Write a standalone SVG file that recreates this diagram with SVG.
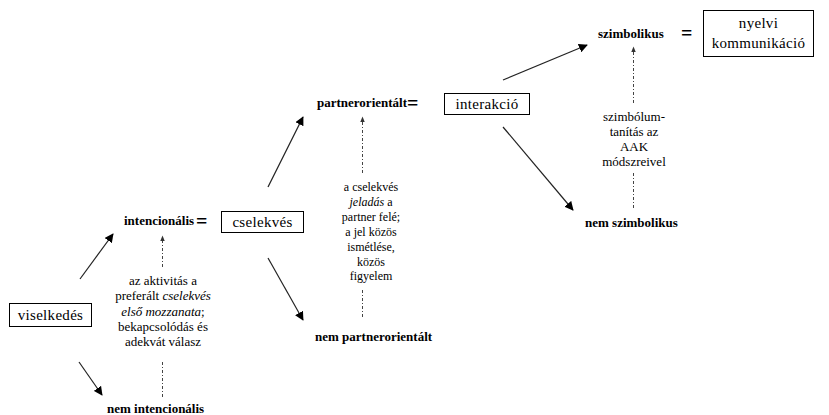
<svg xmlns="http://www.w3.org/2000/svg" width="829" height="415" viewBox="0 0 829 415">
<defs>
<marker id="ah" viewBox="0 0 10 10" refX="9" refY="5" markerWidth="9" markerHeight="9" markerUnits="userSpaceOnUse" orient="auto"><path d="M0,0 L10,5 L0,10 Z" fill="#000"/></marker>
<marker id="dh" viewBox="0 0 10 10" refX="9" refY="5" markerWidth="6" markerHeight="6" markerUnits="userSpaceOnUse" orient="auto"><path d="M0,1 L10,5 L0,9 Z" fill="#333"/></marker>
</defs>
<style>
.box{fill:#fff;stroke:#000;stroke-width:1}
.bt{font-size:15px;letter-spacing:0.3px}
.b{font-size:13px;font-weight:bold}
.eq{font-size:20px;font-weight:bold}
.n{font-size:13px;text-anchor:middle}
.n2{font-size:12px;text-anchor:middle}
.arr{stroke:#222;stroke-width:1.2;fill:none;marker-end:url(#ah)}
.dash{stroke:#444;stroke-width:1;fill:none;stroke-dasharray:3,2,1,2}
</style>
<rect width="829" height="415" fill="#fff"/>
<g font-family="Liberation Serif, Times New Roman, DejaVu Serif, serif" fill="#000">
<g id="viselkedes"><rect class="box" x="9.5" y="303.5" width="82" height="23"/><text class="bt" x="50.5" y="320" text-anchor="middle">viselkedés</text></g>
<g id="intencionalis"><text class="b" x="124" y="225">intencionális</text><text class="eq" x="196" y="228">=</text></g>
<g id="cselekves"><rect class="box" x="221.5" y="211.5" width="82" height="21"/><text class="bt" x="262.5" y="227" text-anchor="middle">cselekvés</text></g>
<g id="nem-intencionalis"><text class="b" x="107" y="413">nem intencionális</text></g>
<g id="partnerorientalt"><text class="b" x="317" y="107">partnerorientált</text><text class="eq" x="407" y="110">=</text></g>
<g id="interakcio"><rect class="box" x="444.5" y="93.5" width="85" height="21"/><text class="bt" x="487" y="109" text-anchor="middle">interakció</text></g>
<g id="nem-partnerorientalt"><text class="b" x="315" y="341">nem partnerorientált</text></g>
<g id="szimbolikus"><text class="b" x="598" y="38">szimbolikus</text><text class="eq" x="681" y="40">=</text></g>
<g id="nyelvi-kommunikacio"><rect class="box" x="703.5" y="10.5" width="110" height="46"/><text class="bt" x="758.5" y="28" text-anchor="middle">nyelvi</text><text class="bt" x="758.5" y="48" text-anchor="middle">kommunikáció</text></g>
<g id="nem-szimbolikus"><text class="b" x="585" y="227">nem szimbolikus</text></g>

<g id="note1">
<text class="n" x="163" y="285">az aktivitás a</text>
<text class="n" x="163" y="300">preferált <tspan font-style="italic">cselekvés</tspan></text>
<text class="n" x="163" y="316" font-style="italic">első mozzanata<tspan font-style="normal">;</tspan></text>
<text class="n" x="163" y="331">bekapcsolódás és</text>
<text class="n" x="163" y="346">adekvát válasz</text>
</g>
<g id="note2">
<text class="n2" x="371" y="191">a cselekvés</text>
<text class="n2" x="371" y="206"><tspan font-style="italic">jeladás</tspan> a</text>
<text class="n2" x="371" y="221">partner felé;</text>
<text class="n2" x="371" y="236">a jel közös</text>
<text class="n2" x="371" y="251">ismétlése,</text>
<text class="n2" x="371" y="266">közös</text>
<text class="n2" x="371" y="280">figyelem</text>
</g>
<g id="note3">
<text class="n" x="634" y="121">szimbólum-</text>
<text class="n" x="634" y="136">tanítás az</text>
<text class="n" x="634" y="151">AAK</text>
<text class="n" x="634" y="166">módszreivel</text>
</g>
</g>
<g id="connectors">
<line class="arr" x1="80" y1="279" x2="113" y2="234"/>
<line class="arr" x1="79" y1="362" x2="102" y2="395"/>
<line class="arr" x1="268" y1="187" x2="303" y2="117"/>
<line class="arr" x1="268" y1="258" x2="303" y2="320"/>
<line class="arr" x1="503" y1="80" x2="587" y2="45"/>
<line class="arr" x1="503" y1="127" x2="573" y2="210"/>
<line class="dash" x1="162.5" y1="267" x2="162.5" y2="236" marker-end="url(#dh)"/>
<line class="dash" x1="162.5" y1="362" x2="162.5" y2="398"/>
<line class="dash" x1="362.5" y1="173" x2="362.5" y2="117" marker-end="url(#dh)"/>
<line class="dash" x1="362.5" y1="290" x2="362.5" y2="318"/>
<line class="dash" x1="633.5" y1="103" x2="633.5" y2="47" marker-end="url(#dh)"/>
<line class="dash" x1="633.5" y1="173" x2="633.5" y2="208"/>
</g>
</svg>
